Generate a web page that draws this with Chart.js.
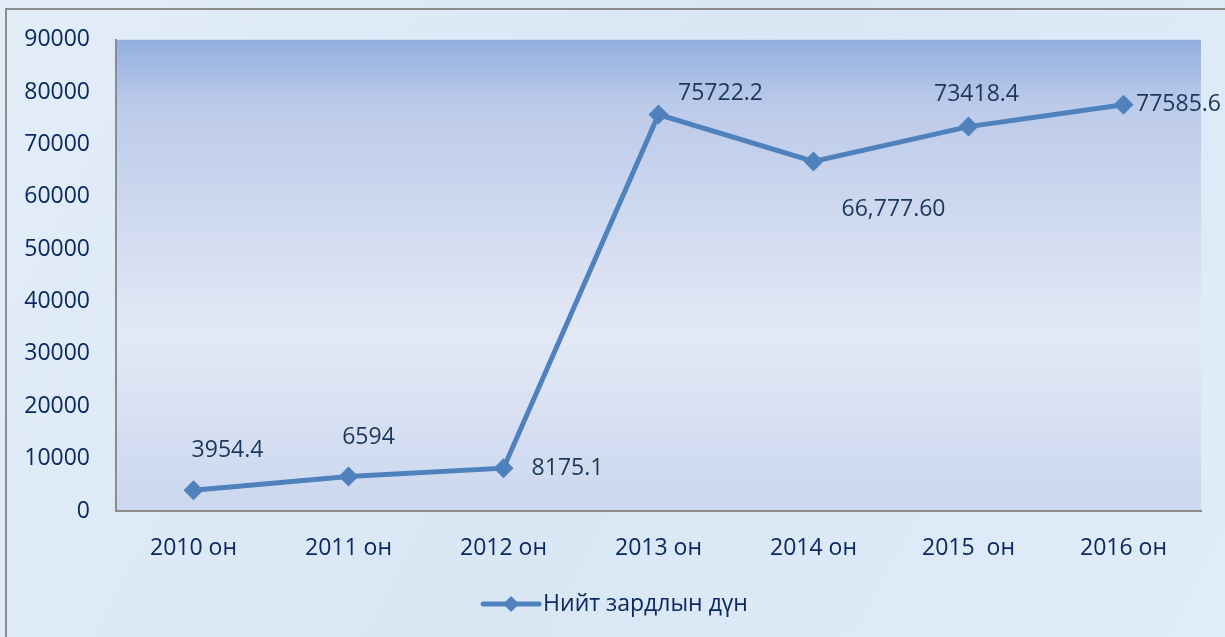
<!DOCTYPE html>
<html>
<head>
<meta charset="utf-8">
<script src="https://cdn.jsdelivr.net/npm/chart.js@4.4.1/dist/chart.umd.min.js"></script>
<style>
  html, body { margin: 0; padding: 0; background: #dde9f6; }
  #wrap { position: absolute; left: 0; top: 0; width: 1225px; height: 637px; }
</style>
</head>
<body>
<div id="wrap"><canvas id="c" width="1225" height="637"></canvas></div>
<script>
// ---- data ----
const categories = ['2010 он', '2011 он', '2012 он', '2013 он', '2014 он', '2015  он', '2016 он'];
const totalCost = [3954.4, 6594, 8175.1, 75722.2, 66777.6, 73418.4, 77585.6];
const valueLabels = ['3954.4', '6594', '8175.1', '75722.2', '66,777.60', '73418.4', '77585.6'];
const seriesName = 'Нийт зардлын дүн';
const yTicks = [0, 10000, 20000, 30000, 40000, 50000, 60000, 70000, 80000, 90000];

// ---- label placement (layout only) ----
const labelOffsets = [[34, -40], [20, -39], [64, 0], [62, -21], [80, 48], [8, -32], [55, 0]];

const FONT = '"Open Sans", "DejaVu Sans", sans-serif';
const LINE = '#4f81bd';
const TEXT = '#0b2860';
const LABEL_TEXT = '#1c375c';

const backgroundPlugin = {
  id: 'bg',
  beforeDraw(chart) {
    const ctx = chart.ctx;
    const W = chart.width, H = chart.height;
    ctx.save();
    const og = ctx.createLinearGradient(0, 0, W, H);
    og.addColorStop(0, '#e2edf8');
    og.addColorStop(0.5, '#d9e6f4');
    og.addColorStop(1, '#e0ecf8');
    ctx.fillStyle = og;
    ctx.fillRect(0, 0, W, H);
    ctx.strokeStyle = '#8c8c8c';
    ctx.lineWidth = 2;
    ctx.strokeRect(6, 9, W + 20, H + 20);
    const a = chart.chartArea;
    const g = ctx.createLinearGradient(0, a.top, 0, a.bottom);
    g.addColorStop(0, '#93afe0');
    g.addColorStop(0.14, '#bccbea');
    g.addColorStop(0.62, '#e3e8f5');
    g.addColorStop(1, '#cbd7ef');
    ctx.fillStyle = g;
    ctx.fillRect(a.left, a.top, a.right - a.left, a.bottom - a.top);
    ctx.restore();
  }
};

const labelsPlugin = {
  id: 'vlabels',
  afterDatasetsDraw(chart) {
    const ctx = chart.ctx;
    const meta = chart.getDatasetMeta(0);
    ctx.save();
    ctx.font = '23px ' + FONT;
    ctx.fillStyle = LABEL_TEXT;
    ctx.textAlign = 'center';
    ctx.textBaseline = 'middle';
    meta.data.forEach((pt, i) => {
      const off = labelOffsets[i];
      ctx.fillText(valueLabels[i], pt.x + off[0], pt.y + off[1]);
    });
    ctx.restore();
  }
};

const legendPlugin = {
  id: 'customLegend',
  afterDraw(chart) {
    const ctx = chart.ctx;
    const cx = chart.width / 2;
    const y = 604;
    ctx.save();
    ctx.font = '23px ' + FONT;
    const tw = ctx.measureText(seriesName).width;
    const lineW = 56, gap = 4;
    const total = lineW + gap + tw;
    const x0 = cx - total / 2 + 3;
    ctx.strokeStyle = LINE;
    ctx.lineWidth = 5;
    ctx.lineCap = 'round';
    ctx.beginPath();
    ctx.moveTo(x0, y);
    ctx.lineTo(x0 + lineW, y);
    ctx.stroke();
    ctx.fillStyle = LINE;
    const dx = x0 + lineW / 2, r = 8;
    ctx.beginPath();
    ctx.moveTo(dx, y - r); ctx.lineTo(dx + r, y); ctx.lineTo(dx, y + r); ctx.lineTo(dx - r, y); ctx.closePath();
    ctx.fill();
    ctx.fillStyle = TEXT;
    ctx.textBaseline = 'middle';
    ctx.textAlign = 'left';
    ctx.fillText(seriesName, x0 + lineW + gap, y);
    ctx.restore();
  }
};

new Chart(document.getElementById('c'), {
  type: 'line',
  data: {
    labels: categories,
    datasets: [{
      label: seriesName,
      data: totalCost,
      borderColor: LINE,
      backgroundColor: LINE,
      borderWidth: 5,
      pointStyle: 'rectRot',
      pointRadius: 10,
      pointHoverRadius: 10,
      pointBackgroundColor: LINE,
      pointBorderColor: LINE,
      pointBorderWidth: 0,
      tension: 0,
      fill: false
    }]
  },
  options: {
    responsive: false,
    animation: false,
    devicePixelRatio: 1,
    layout: { padding: { left: 0, top: 38, right: 24, bottom: 0 } },
    plugins: {
      legend: { display: false },
      tooltip: { enabled: false }
    },
    scales: {
      x: {
        type: 'category',
        offset: true,
        grid: { display: false, drawTicks: false },
        border: { display: true, color: '#8c8c8c', width: 2 },
        ticks: { color: TEXT, font: { family: FONT, size: 23 }, padding: 24, maxRotation: 0, autoSkip: false },
        afterFit(scale) { scale.height = 126; }
      },
      y: {
        min: 0,
        max: 90000,
        afterBuildTicks(scale) { scale.ticks = yTicks.map(v => ({ value: v })); },
        grid: { display: false, drawTicks: false },
        border: { display: true, color: '#8c8c8c', width: 2 },
        ticks: { color: TEXT, font: { family: FONT, size: 23 }, padding: 26, callback: v => String(v) },
        afterFit(scale) { scale.width = 116; }
      }
    }
  },
  plugins: [backgroundPlugin, labelsPlugin, legendPlugin]
});
</script>
</body>
</html>
